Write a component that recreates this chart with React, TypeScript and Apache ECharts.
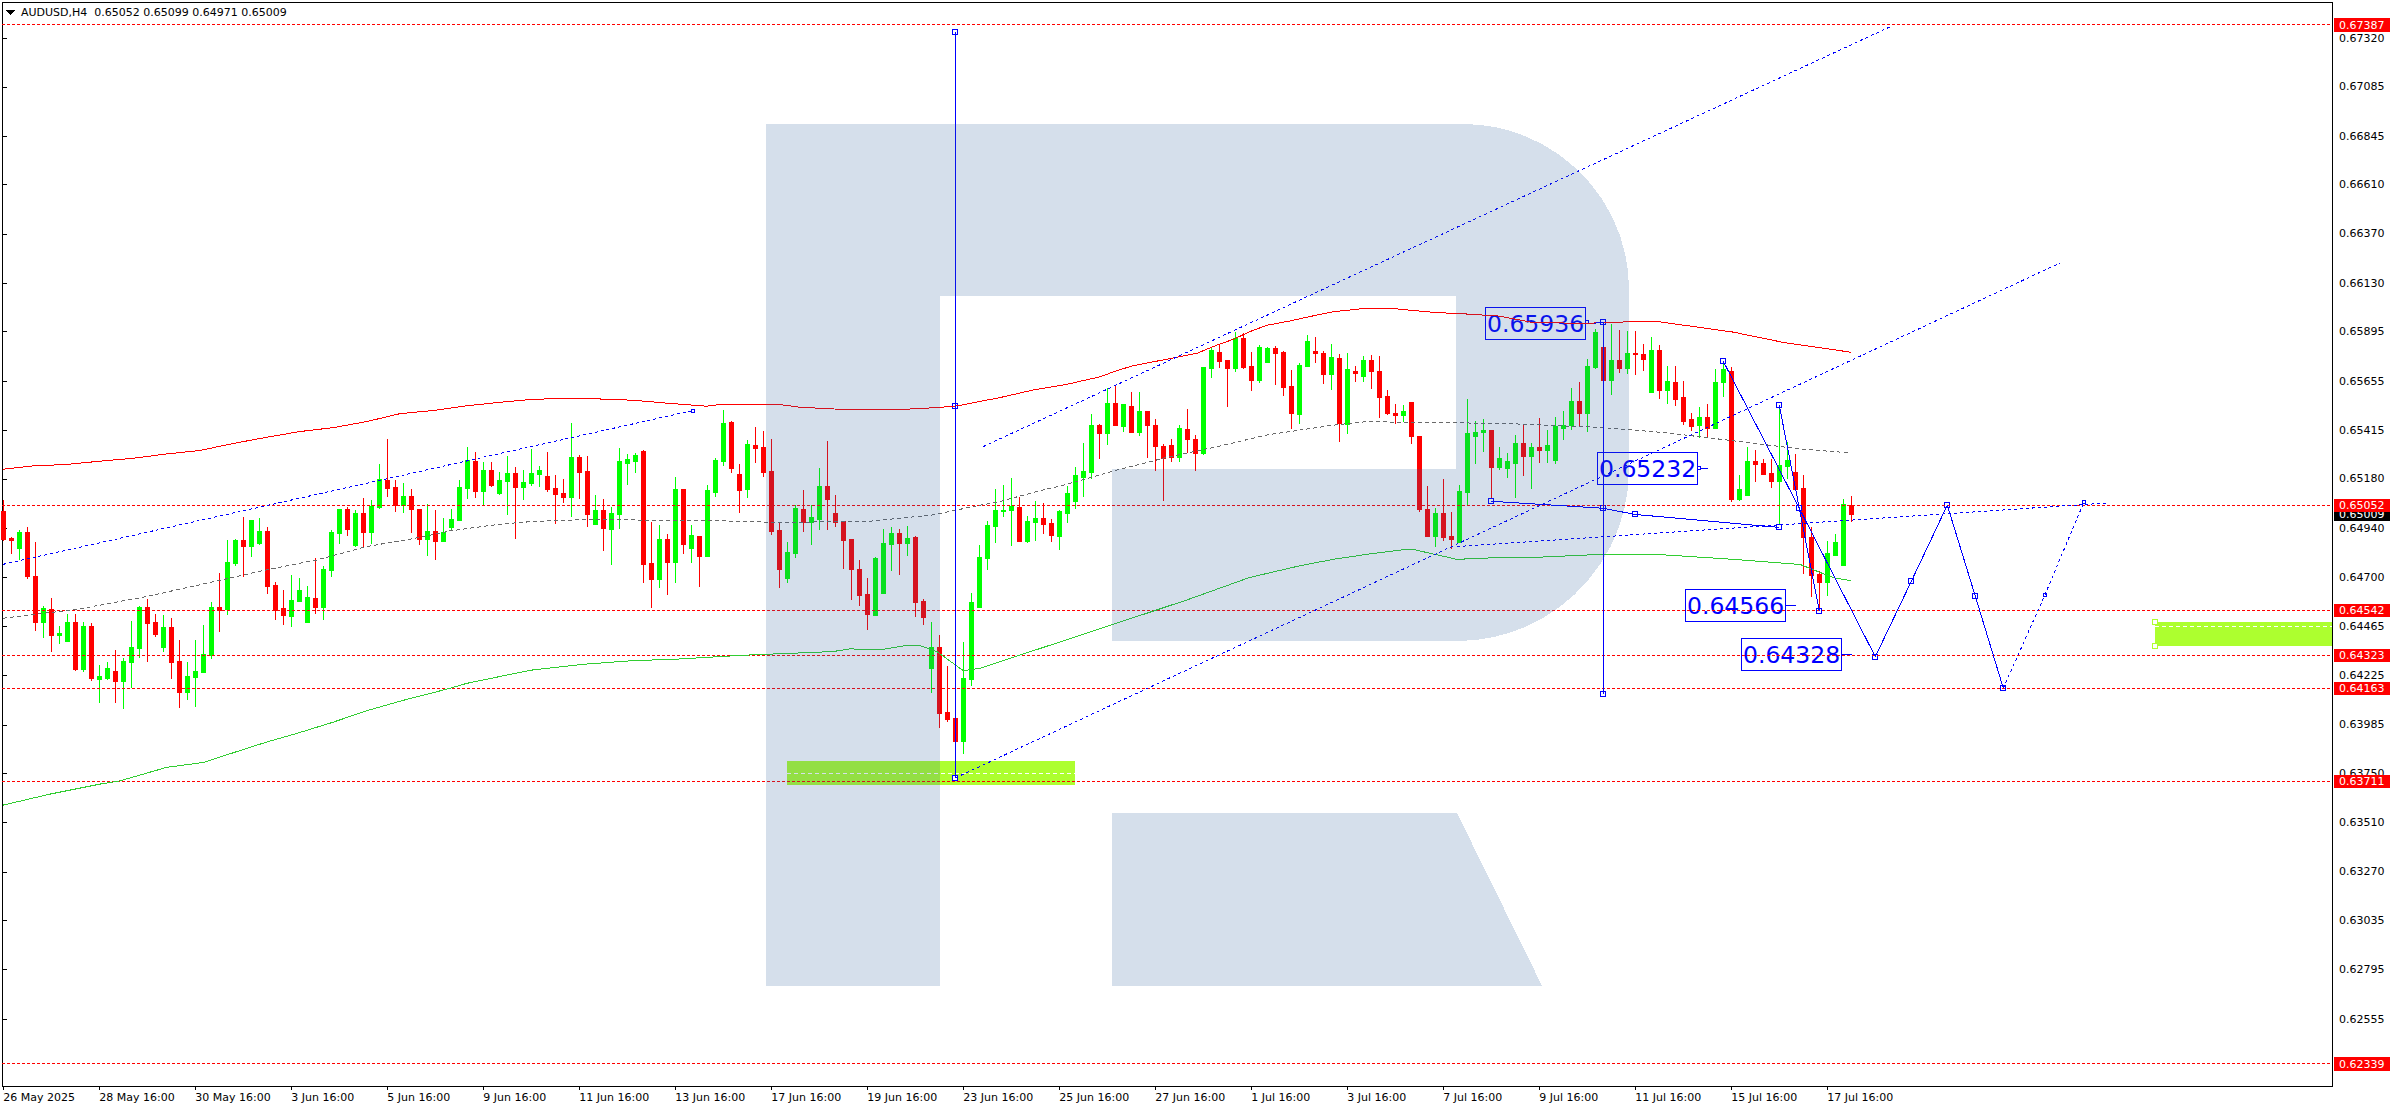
import React, { useEffect, useRef } from "react";
import * as echarts from "echarts";

// All prices below are written in points (price x 100000); x positions are bar numbers.
const POINT = 100000;

const opens = [
65019,64888,64840,64917,64708,64480,64543,64417,64388,64480,
64252,64465,64203,64208,64242,64193,64290,64354,64553,64480,
64359,64456,64295,64140,64213,64237,64320,64553,64543,64767,
64879,64849,64864,64922,64660,64548,64509,64582,64480,64597,
64553,64733,64913,65029,64854,65010,64917,65039,65170,65136,
65050,65092,65029,64883,64922,64874,64942,64976,65131,65262,
65117,65219,65107,65165,65204,65136,65156,65199,65190,65131,
65107,65088,65282,65214,64956,65024,64932,65005,65253,65262,
65311,64767,64689,64883,64776,65126,64840,64898,64801,65112,
65262,65452,65199,65126,65340,65331,65214,64927,64694,64815,
65029,64966,64981,65141,65010,64971,64883,64742,64616,64514,
64621,64859,64913,64864,64893,64582,64261,64359,64043,64018,
63902,64203,64553,64791,64947,65019,65024,65043,64878,64970,
64985,64965,64902,65014,65072,65189,65213,65437,65398,65544,
65432,65534,65407,65505,65441,65339,65344,65286,65422,65369,
65305,65714,65796,65753,65714,65864,65728,65660,65743,65811,
65796,65631,65495,65728,65801,65791,65689,65767,65446,65704,
65675,65753,65704,65578,65500,65490,65553,65388,65033,64902,
65014,64902,64873,65116,65388,65403,65417,65237,65228,65257,
65354,65291,65330,65320,65271,65427,65437,65558,65500,65723,
65816,65660,65753,65714,65787,65782,65602,65806,65607,65650,
65573,65466,65437,65480,65427,65646,65704,65082,65101,65262,
65257,65208,65169,65242,65213,65131,64897,64717,64678,64810,
64761,65052];

const closes = [
64883,64879,64917,64704,64480,64548,64417,64431,64480,64252,
64461,64208,64218,64261,64193,64295,64363,64553,64475,64422,
64456,64290,64140,64218,64242,64325,64553,64540,64772,64879,
64849,64976,64922,64655,64540,64514,64587,64636,64602,64553,
64742,64917,65029,64932,65010,64917,65044,65175,65131,65050,
65092,65029,64883,64922,64874,64917,64981,65136,65267,65117,
65219,65146,65170,65204,65136,65160,65204,65219,65126,65102,
65088,65282,65209,65005,65024,64937,65010,65262,65272,65292,
64762,64689,64883,64776,65126,64859,64903,64801,65122,65267,
65447,65228,65122,65345,65326,65209,64922,64742,64820,65034,
64966,64990,65141,65078,64966,64879,64742,64611,64519,64791,
64864,64913,64864,64888,64577,64504,64359,64038,64013,63902,
64208,64577,64796,64951,65024,65028,65048,64878,64975,64985,
64960,64907,65019,65111,65194,65218,65441,65398,65548,65441,
65539,65407,65505,65441,65335,65281,65286,65427,65369,65305,
65719,65806,65748,65714,65864,65723,65660,65816,65811,65791,
65626,65500,65733,65845,65787,65689,65772,65451,65709,65694,
65753,65704,65573,65500,65490,65505,65388,65033,64902,65014,
64897,64883,65121,65398,65407,65417,65237,65281,65262,65354,
65291,65330,65320,65344,65432,65441,65558,65500,65728,65889,
65660,65753,65714,65787,65782,65762,65806,65607,65655,65568,
65461,65432,65480,65427,65650,65709,65082,65126,65262,65252,
65203,65169,65247,65267,65126,64897,64712,64678,64815,64873,
65053,65009];

const highs = [
65078,64898,64932,64947,64874,64563,64602,64465,64524,64524,
64485,64480,64276,64290,64349,64310,64490,64563,64597,64524,
64519,64504,64397,64290,64397,64470,64582,64723,64883,64888,
64995,64981,64990,64947,64679,64640,64713,64699,64660,64796,
64757,64932,65034,65044,65029,65088,65078,65253,65374,65175,
65160,65131,65034,65058,65029,64990,65034,65175,65335,65311,
65262,65262,65214,65292,65238,65224,65326,65243,65311,65199,
65180,65452,65296,65292,65102,65083,65044,65331,65301,65306,
65321,64971,64956,64913,65190,65126,64956,64898,65151,65282,
65515,65462,65253,65369,65433,65413,65374,64971,64874,65053,
65126,65053,65233,65365,65102,64976,64883,64786,64699,64801,
64937,64947,64937,64951,64903,64597,64485,64422,64271,64018,
64388,64626,64859,64976,65131,65150,65184,65092,64999,65072,
65062,64985,65028,65145,65237,65354,65495,65446,65621,65636,
65544,65602,65602,65505,65471,65349,65373,65441,65519,65393,
65719,65821,65830,65753,65893,65889,65796,65830,65821,65825,
65801,65709,65743,65879,65869,65801,65835,65787,65791,65728,
65777,65782,65777,65612,65544,65539,65553,65388,65145,65038,
65179,65019,65150,65568,65461,65471,65417,65335,65305,65393,
65446,65354,65476,65417,65480,65510,65621,65650,65762,65908,
65870,65932,65903,65898,65898,65835,65869,65830,65728,65728,
65655,65500,65529,65544,65714,65748,65723,65198,65335,65320,
65276,65276,65534,65359,65301,65198,64946,64732,64878,64912,
65082,65099];

const lows = [
64880,64817,64786,64694,64441,64407,64339,64378,64388,64247,
64242,64198,64091,64203,64091,64062,64164,64310,64290,64412,
64339,64208,64067,64106,64072,64237,64305,64436,64519,64757,
64704,64801,64859,64621,64495,64470,64461,64582,64480,64524,
64495,64704,64864,64903,64849,64845,64864,65034,65092,65019,
65015,64917,64859,64806,64786,64874,64932,64976,65083,65088,
65049,65141,65102,65005,64888,65078,65146,65141,65117,64961,
65063,64995,65083,64947,64956,64830,64762,64937,65151,65209,
64674,64553,64650,64616,64674,64815,64772,64655,64801,65092,
65243,65209,65015,65088,65258,65190,64908,64650,64674,64796,
64922,64859,64932,64932,64947,64742,64592,64563,64446,64514,
64621,64733,64713,64806,64509,64470,64140,63970,63999,63902,
63843,64174,64553,64738,64869,64994,64853,64873,64868,64878,
64912,64873,64834,64965,65033,65092,65179,65276,65344,65437,
65407,65407,65388,65281,65218,65072,65262,65262,65305,65218,
65296,65670,65719,65529,65699,65714,65607,65646,65743,65636,
65582,65422,65446,65728,65743,65641,65612,65359,65398,65651,
65651,65616,65476,65490,65446,65456,65349,65019,64897,64849,
64878,64839,64873,65053,65252,65310,65077,65223,65184,65087,
65194,65130,65257,65257,65252,65369,65417,65432,65407,65714,
65640,65587,65694,65689,65684,65704,65602,65568,65544,65534,
65441,65412,65378,65383,65422,65578,65067,65072,65101,65164,
65203,65135,64951,65179,65126,64717,64606,64538,64610,64810,
64761,64971];

const redMa = [[0,65227],[3.75,65243],[7.9,65250],[12.1,65266],[16.25,65280],[20.4,65301],[24.6,65318],[28.75,65352],[32.9,65382],[37.1,65410],[41.25,65429],[45.4,65458],[49.6,65497],[53.75,65512],[57.9,65535],[62.1,65552],[66.25,65567],[70.4,65570],[73.3,65570],[78.75,65562],[82.9,65548],[87.9,65533],[90,65543],[96.7,65543],[99.6,65528],[104.6,65518],[112.5,65518],[115.25,65523],[119,65533],[124.6,65575],[128.75,65612],[132.9,65639],[137.1,65676],[139.2,65706],[141.25,65730],[145.4,65761],[149.2,65790],[151.7,65830],[153.75,65858],[155.8,65895],[157.9,65926],[160.8,65947],[164.2,65976],[166.25,65992],[170.4,66009],[173.3,66009],[178.75,65989],[182.9,65981],[187,65971],[191.25,65939],[197.9,65936],[204.6,65945],[206.7,65945],[210,65927],[216.25,65893],[222.5,65843],[231,65795]];

const greenMa = [[0,63595],[5.8,63648],[12.1,63697],[14.6,63713],[20.4,63778],[25,63802],[30.8,63875],[32.9,63901],[37.1,63948],[41.25,63998],[45.4,64053],[49.6,64100],[55.8,64162],[57.9,64186],[64.6,64240],[66.25,64252],[72.5,64279],[78.75,64297],[83.75,64303],[92.5,64323],[103.75,64341],[105.8,64354],[109.6,64349],[112.9,64371],[114.6,64370],[116.7,64341],[120,64248],[122.1,64260],[124.6,64292],[135,64425],[147.9,64591],[155.8,64701],[162.1,64758],[166.25,64789],[170.4,64813],[174.6,64834],[176.25,64837],[178.75,64815],[181.7,64789],[187.1,64798],[191.25,64798],[199.6,64813],[206.7,64813],[216.25,64789],[224.6,64764],[228.75,64700],[231,64685]];

const grayMa = [[0,64503],[9.2,64546],[17.9,64608],[21.25,64637],[26.7,64684],[32.9,64738],[39.2,64786],[45.4,64851],[51.7,64893],[55.8,64927],[62.1,64960],[66.25,64973],[72.5,64982],[83,64979],[94.6,64973],[95.4,64968],[108,64973],[116.25,65005],[121.7,65049],[124.6,65070],[128.75,65114],[132.9,65153],[138.75,65218],[145.4,65284],[151.7,65336],[157.9,65393],[166.25,65441],[170.4,65458],[178.75,65453],[187.1,65450],[199.6,65430],[207.9,65404],[216.25,65365],[224.6,65325],[230.6,65307]];

// Forecast drawing objects
const dottedLines = [
  [[0,64765],[86.2,65512]],
  [[122.5,65337],[236.1,67381]],
  [[119,63727],[257.1,66229]],
  [[181.7,64851],[263.1,65063]],
  [[250,64163],[255.2,64616],[260.1,65069]],
];
const solidLines = [
  [[119,67349],[119,63727]],
  [[200,65940],[200,64137]],
  [[199.1,65940],[200,65940]],
  [[186,65071],[200,65037],[204,65007],[222,64944]],
  [[215,65751],[224.5,65037],[234,64316],[238.5,64682],[243,65052],[246.5,64610],[250,64163]],
  [[222,65537],[227,64538]],
];
const bigMarkers = [[119,67349],[119,65533],[119,63727],[200,65940],[200,65037],[200,64137],[186,65071],[204,65007],[222,64944],[215,65751],[224.5,65037],[234,64316],[238.5,64682],[243,65052],[246.5,64610],[250,64163],[222,65537],[227,64538]];
const smallMarkers = [[86.2,65512],[198,65940],[212,65232],[255.2,64616],[260.1,65069]];
const zoneMarkers = [[269,64483],[269,64369]];

const annotationPrices = [65936, 65232, 64566, 64328];
const annotationBars = [199.1, 213.1, 224.1, 231.1];

// [first bar, last bar, top, bottom, dashed line inside]
const zones = [
  [98, 134, 63809, 63694, 63749],
  [269, 291.0875, 64483, 64369, 64464],
];

const levels = [67387, 65052, 64542, 64323, 64163, 63711, 62339];
const lastPrice = 65009;

const yTicks = [67320,67085,66845,66610,66370,66130,65895,65655,65415,65180,64940,64700,64465,64225,63985,63750,63510,63270,63035,62795,62555];
const xLabels = ["26 May 2025","28 May 16:00","30 May 16:00","3 Jun 16:00","5 Jun 16:00","9 Jun 16:00","11 Jun 16:00","13 Jun 16:00","17 Jun 16:00","19 Jun 16:00","23 Jun 16:00","25 Jun 16:00","27 Jun 16:00","1 Jul 16:00","3 Jul 16:00","7 Jul 16:00","9 Jul 16:00","11 Jul 16:00","15 Jul 16:00","17 Jul 16:00"];
const BARS_PER_LABEL = 12;
const TITLE = "AUDUSD,H4  0.65052 0.65099 0.64971 0.65009";

const X_MIN = -0.1625;
const X_MAX = 291.0875;
const Y_MIN = 62230;
const Y_MAX = 67497;

const FONT = '"DejaVu Sans", Verdana, sans-serif';
const BLUE = "#0000ff";
const LIME = "#adff2f";

const LOGO_D =
  "M766 124H1463C1554 124 1629 198 1629 289V469C1629 564 1552 641 1457 641H1112V469H1456V296H940V985.7H766Z" +
  "M1112 813H1457L1542 985.7H1112Z";

let logoRegistered = false;

const toPts = (pts: number[][]) => pts.map(([x, p]) => [x, p / POINT]);

function lineSeries(pts: number[][], color: string, width: number, dash?: number[]) {
  return {
    type: "line",
    data: toPts(pts),
    showSymbol: false,
    silent: true,
    clip: true,
    lineStyle: { color, width, type: dash || "solid", cap: "butt" },
  };
}

function markerSeries(pts: number[][], size: number, color: string) {
  return {
    type: "scatter",
    data: toPts(pts),
    symbol: "rect",
    symbolSize: size,
    silent: true,
    itemStyle: { color: "#ffffff", borderColor: color, borderWidth: 1, opacity: 1 },
  };
}

export default function App() {
  const ref = useRef<HTMLDivElement>(null);

  useEffect(() => {
    document.body.style.margin = "0";
    if (!logoRegistered) {
      echarts.graphic.registerShape("rfLogo", echarts.graphic.extendPath(LOGO_D, {}));
      logoRegistered = true;
    }
    const chart = echarts.init(ref.current!, undefined, { renderer: "svg" });

    const candleData = opens.map((o, i) => [i, o / POINT, closes[i] / POINT, lows[i] / POINT, highs[i] / POINT]);

    const series: any[] = [
      {
        type: "custom",
        silent: true,
        data: zones.map((z) => [z[0], z[1], z[2] / POINT, z[3] / POINT]),
        encode: { x: [0, 1], y: [2, 3] },
        renderItem: (_p: any, api: any) => {
          const a = api.coord([api.value(0), api.value(2)]);
          const b = api.coord([api.value(1), api.value(3)]);
          return {
            type: "rect",
            shape: { x: a[0], y: a[1], width: b[0] - a[0], height: b[1] - a[1] },
            style: { fill: LIME },
          };
        },
      },
      ...zones.map((z) => lineSeries([[z[0], z[4]], [z[1], z[4]]], "#ffffff", 1, [4, 3])),
      ...levels.map((v) => lineSeries([[X_MIN, v], [X_MAX, v]], "#ff0000", 1, [3, 2])),
      {
        type: "candlestick",
        silent: true,
        barWidth: 4,
        data: candleData,
        itemStyle: {
          color: "#00ff00",
          color0: "#ff0000",
          borderColor: "#00ff00",
          borderColor0: "#ff0000",
          borderWidth: 1,
        },
      },
      lineSeries(redMa, "#ff0000", 1),
      lineSeries(greenMa, "#32cd32", 1),
      lineSeries(grayMa, "#696969", 1, [4, 3]),
      ...dottedLines.map((l) => lineSeries(l, BLUE, 1, [3, 3])),
      ...solidLines.map((l) => lineSeries(l, BLUE, 1)),
      markerSeries(zoneMarkers, 5, LIME),
      markerSeries(bigMarkers, 5, BLUE),
      markerSeries(smallMarkers, 3, BLUE),
      {
        type: "custom",
        silent: true,
        data: annotationPrices.map((p, i) => [annotationBars[i], p / POINT]),
        encode: { x: 0, y: 1 },
        renderItem: (params: any, api: any) => {
          const c = api.coord([api.value(0), api.value(1)]);
          const right = c[0] - 10.5;
          const text = (annotationPrices[params.dataIndex] / POINT).toFixed(5);
          return {
            type: "group",
            children: [
              { type: "line", shape: { x1: right, y1: c[1], x2: c[0], y2: c[1] }, style: { stroke: BLUE, lineWidth: 1 } },
              { type: "rect", shape: { x: right - 100, y: c[1] - 16, width: 100, height: 32 }, style: { fill: "none", stroke: BLUE, lineWidth: 1 } },
              {
                type: "text",
                style: {
                  x: right - 50,
                  y: c[1] + 1,
                  text,
                  fill: BLUE,
                  font: `23.5px ${FONT}`,
                  align: "center",
                  verticalAlign: "middle",
                  textAlign: "center",
                  textVerticalAlign: "middle",
                },
              },
            ],
          };
        },
      },
      {
        type: "custom",
        silent: true,
        data: [lastPrice, ...levels].map((p) => [X_MAX, p / POINT]),
        encode: { x: 0, y: 1 },
        renderItem: (params: any, api: any) => {
          const c = api.coord([api.value(0), api.value(1)]);
          const isLast = params.dataIndex === 0;
          return {
            type: "group",
            children: [
              { type: "rect", shape: { x: c[0] + 2, y: c[1] - 6.5, width: 56, height: 13.5 }, style: { fill: isLast ? "#000000" : "#ff0000" } },
              {
                type: "text",
                style: {
                  x: c[0] + 7,
                  y: c[1] + 0.5,
                  text: api.value(1).toFixed(5),
                  fill: "#ffffff",
                  font: `11px ${FONT}`,
                  align: "left",
                  verticalAlign: "middle",
                  textAlign: "left",
                  textVerticalAlign: "middle",
                },
              },
            ],
          };
        },
      },
    ];

    chart.setOption({
      animation: false,
      backgroundColor: "#ffffff",
      title: {
        text: TITLE,
        left: 21,
        top: 7,
        padding: 0,
        textStyle: { fontFamily: FONT, fontSize: 11, fontWeight: "normal", color: "#000000" },
      },
      grid: {
        left: 2,
        top: 2,
        width: 2330,
        height: 1084,
        show: true,
        backgroundColor: "transparent",
        borderColor: "#000000",
        borderWidth: 1,
        containLabel: false,
      },
      xAxis: {
        type: "value",
        min: X_MIN,
        max: X_MAX,
        splitLine: { show: false },
        axisLine: { show: false },
        axisTick: {
          show: true,
          length: 4,
          lineStyle: { color: "#000000", width: 1 },
          customValues: xLabels.map((_, i) => i * BARS_PER_LABEL),
        },
        axisLabel: {
          show: true,
          margin: 6,
          align: "left",
          color: "#000000",
          fontFamily: FONT,
          fontSize: 11,
          customValues: xLabels.map((_, i) => i * BARS_PER_LABEL),
          formatter: (v: number) => xLabels[Math.round(v / BARS_PER_LABEL)] || "",
        },
      },
      yAxis: {
        type: "value",
        position: "right",
        min: Y_MIN / POINT,
        max: Y_MAX / POINT,
        splitLine: { show: false },
        axisLine: { show: false },
        axisTick: {
          show: true,
          length: 4,
          lineStyle: { color: "#000000", width: 1 },
          customValues: yTicks.map((v) => v / POINT),
        },
        axisLabel: {
          show: true,
          margin: 7,
          padding: [2, 0, 0, 0],
          color: "#000000",
          fontFamily: FONT,
          fontSize: 11,
          customValues: yTicks.map((v) => v / POINT),
          formatter: (v: number) => v.toFixed(5),
        },
      },
      graphic: {
        elements: [
          { type: "polygon", silent: true, shape: { points: [[6, 10], [15, 10], [10.5, 15]] }, style: { fill: "#000000" }, z: 50 },
          { type: "rfLogo", silent: true, x: 0, y: 0, style: { fill: "rgb(45,95,155)", opacity: 0.2 }, z: 100 },
        ],
      },
      series,
    });

    return () => chart.dispose();
  }, []);

  return (
    <>
      <style>{"svg path{shape-rendering:crispEdges}"}</style>
      <div ref={ref} style={{ position: "fixed", left: 0, top: 0, width: 2396, height: 1110 }} />
    </>
  );
}
